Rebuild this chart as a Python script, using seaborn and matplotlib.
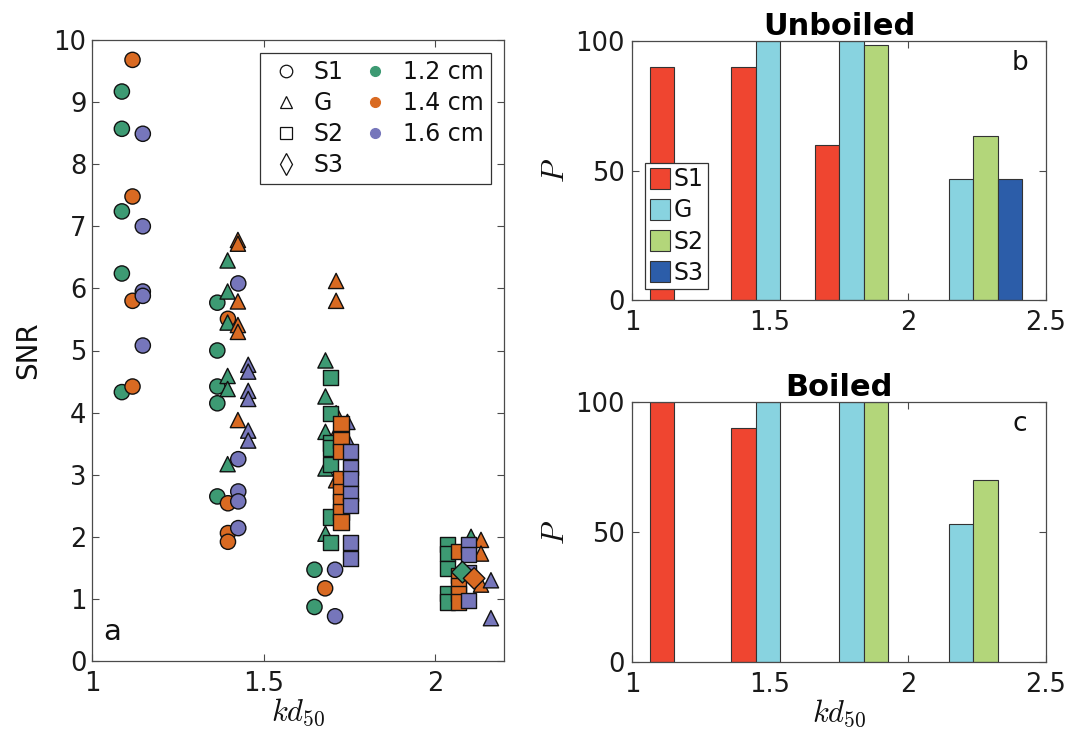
import numpy as np
import pandas as pd
import matplotlib
matplotlib.use("Agg")
import matplotlib.pyplot as plt
from matplotlib.lines import Line2D
from matplotlib.patches import Patch
from matplotlib.ticker import FuncFormatter, MultipleLocator
import seaborn as sns

# ---------------------------------------------------------------- data
sediments = ["S1", "G", "S2", "S3"]
depths = ["1.2 cm", "1.4 cm", "1.6 cm"]
depth_colors = ["#3d9a73", "#d96a22", "#7676bb"]
sed_markers = {"S1": "o", "G": "^", "S2": "s", "S3": "D"}

# S1 (circles)
s1_kd = [1.087, 1.087, 1.087, 1.087, 1.087, 1.365, 1.365, 1.365, 1.365, 1.365, 1.648, 1.648,
         1.118, 1.118, 1.118, 1.118, 1.396, 1.396, 1.396, 1.396, 1.679,
         1.148, 1.148, 1.148, 1.148, 1.148, 1.426, 1.426, 1.426, 1.426, 1.426, 1.708, 1.708]
s1_snr = [9.17, 8.57, 7.24, 6.24, 4.33, 5.77, 5.00, 4.42, 4.15, 2.65, 1.47, 0.87,
          9.68, 7.48, 5.80, 4.42, 5.51, 2.54, 2.06, 1.92, 1.17,
          8.49, 7.00, 5.95, 5.88, 5.08, 6.08, 3.25, 2.73, 2.57, 2.14, 1.47, 0.72]
s1_depth = ["1.2 cm"] * 12 + ["1.4 cm"] * 9 + ["1.6 cm"] * 12

# G (triangles)
g_kd = [1.395, 1.395, 1.395, 1.395, 1.395, 1.395, 1.680, 1.680, 1.680, 1.680, 1.680, 2.104,
        1.425, 1.425, 1.425, 1.425, 1.425, 1.425, 1.711, 1.711, 1.711, 1.711, 1.711, 2.133, 2.133, 2.133,
        1.455, 1.455, 1.455, 1.455, 1.455, 1.455, 1.744, 1.744, 2.162, 2.162]
g_snr = [6.45, 5.95, 5.45, 4.59, 4.38, 3.17, 4.84, 4.26, 3.69, 3.10, 2.05, 2.00,
         6.78, 6.72, 5.79, 5.41, 5.30, 3.88, 6.12, 5.80, 3.99, 3.67, 2.91, 1.95, 1.73, 1.23,
         4.77, 4.66, 4.35, 4.22, 3.71, 3.55, 3.85, 3.56, 1.30, 0.69]
g_depth = ["1.2 cm"] * 12 + ["1.4 cm"] * 14 + ["1.6 cm"] * 10

# S2 (squares)
s2_kd = [1.695, 1.695, 1.695, 1.695, 1.695, 1.695, 1.695, 2.036, 2.036, 2.036, 2.036, 2.036,
         1.725, 1.725, 1.725, 1.725, 1.725, 1.725, 1.725, 1.725, 2.067, 2.067, 2.067, 2.067, 2.067,
         1.754, 1.754, 1.754, 1.754, 1.754, 1.754, 1.754, 2.097, 2.097, 2.097, 2.097]
s2_snr = [4.57, 3.99, 3.51, 3.43, 3.16, 2.32, 1.91, 1.87, 1.73, 1.49, 1.09, 0.95,
          3.83, 3.56, 3.37, 2.94, 2.73, 2.57, 2.40, 2.24, 1.76, 1.38, 1.22, 1.09, 0.95,
          3.37, 3.12, 2.94, 2.70, 2.51, 1.91, 1.65, 1.87, 1.72, 1.42, 0.97]
s2_depth = ["1.2 cm"] * 12 + ["1.4 cm"] * 13 + ["1.6 cm"] * 11

# S3 (diamonds)
s3_kd = [2.079, 2.113]
s3_snr = [1.43, 1.33]
s3_depth = ["1.2 cm", "1.4 cm"]

# Detection probability P (%) per kd50 group
group_kd = [1.242, 1.537, 1.839, 2.237]
bar_colors = ["#ef4530", "#88d3e0", "#b3d67a", "#2c5da9"]

unboiled_s1 = [90, 90, 60, np.nan]
unboiled_g = [np.nan, 100, 100, 46.7]
unboiled_s2 = [np.nan, np.nan, 98.5, 63.3]
unboiled_s3 = [np.nan, np.nan, np.nan, 46.7]

boiled_s1 = [100, 90, np.nan, np.nan]
boiled_g = [np.nan, 100, 100, 53.3]
boiled_s2 = [np.nan, np.nan, 100, 70]
boiled_s3 = [np.nan, np.nan, np.nan, np.nan]

bar_width = 0.0888

# ---------------------------------------------------------------- style
sns.set_style("ticks")
plt.rcParams.update({
    "font.family": ["DejaVu Sans"],
    "mathtext.fontset": "cm",
    "text.color": "#111111",
    "axes.labelcolor": "#111111",
    "xtick.direction": "in",
    "ytick.direction": "in",
    "xtick.top": True,
    "ytick.right": True,
    "axes.edgecolor": "#4a4a4a",
    "axes.linewidth": 0.9,
    "xtick.color": "#4a4a4a",
    "ytick.color": "#4a4a4a",
    "xtick.labelcolor": "#1a1a1a",
    "ytick.labelcolor": "#1a1a1a",
    "xtick.major.size": 5,
    "ytick.major.size": 5,
    "xtick.major.width": 0.8,
    "ytick.major.width": 0.8,
})

fig = plt.figure(figsize=(10.74, 7.44), dpi=100)
W, H = 1074, 744


def px_axes(x0, y0, x1, y1):
    return fig.add_axes([x0 / W, 1 - y1 / H, (x1 - x0) / W, (y1 - y0) / H])


fmt = FuncFormatter(lambda v, p: f"{v:g}")

# ---------------------------------------------------------------- panel a
ax = px_axes(92, 40, 504, 661)
scatter_df = pd.concat([
    pd.DataFrame({"kd": s1_kd, "snr": s1_snr, "depth": s1_depth, "sed": "S1"}),
    pd.DataFrame({"kd": g_kd, "snr": g_snr, "depth": g_depth, "sed": "G"}),
    pd.DataFrame({"kd": s2_kd, "snr": s2_snr, "depth": s2_depth, "sed": "S2"}),
    pd.DataFrame({"kd": s3_kd, "snr": s3_snr, "depth": s3_depth, "sed": "S3"}),
], ignore_index=True)

sns.scatterplot(data=scatter_df, x="kd", y="snr", hue="depth", hue_order=depths,
                palette=depth_colors, style="sed", style_order=sediments,
                markers=sed_markers, s=120, edgecolor="#111111", linewidth=1.0,
                legend=False, ax=ax, zorder=3)

ax.set_xlim(1, 2.2)
ax.set_ylim(0, 10)
ax.set_xticks([1, 1.5, 2])
ax.yaxis.set_major_locator(MultipleLocator(1))
ax.xaxis.set_major_formatter(fmt)
ax.tick_params(axis="both", labelsize=18.5)
ax.tick_params(axis="x", pad=7)
ax.tick_params(axis="y", pad=4)
ax.set_xlabel(r"$kd_{50}$", fontsize=22, labelpad=0)
ax.set_ylabel("SNR", fontsize=20, labelpad=8)
ax.text(0.05, 0.047, "a", transform=ax.transAxes, fontsize=21,
        ha="center", va="center")

shape_handles = [Line2D([], [], linestyle="none", marker=sed_markers[s] if s != "S3" else "d",
                        markersize=9 if s != "S3" else 11, markerfacecolor="none",
                        markeredgecolor="#111111", markeredgewidth=0.9)
                 for s in sediments]
color_handles = [Line2D([], [], linestyle="none", marker="o", markersize=7,
                        markerfacecolor=c, markeredgecolor=c) for c in depth_colors]
blank = Line2D([], [], linestyle="none")
leg = ax.legend(shape_handles + color_handles + [blank],
                sediments + depths + [""], ncol=2, fontsize=17,
                loc="upper right", bbox_to_anchor=(0.968, 0.979), borderaxespad=0,
                frameon=True, fancybox=False, framealpha=1, edgecolor="#333333",
                borderpad=0.3, handlelength=1.6, handletextpad=0.4,
                columnspacing=0.5, labelspacing=0.3)
leg.get_frame().set_linewidth(0.9)

# ---------------------------------------------------------------- panels b, c
def bar_panel(axb, values, title, letter, show_legend, show_xlabel):
    rows = []
    for name, vals in zip(sediments, values):
        i = sediments.index(name)
        for g, v in zip(group_kd, vals):
            if not np.isnan(v):
                rows.append({"kd": g + (i - 1.5) * bar_width, "P": v, "sed": name})
    df = pd.DataFrame(rows)
    sns.barplot(data=df, x="kd", y="P", hue="sed", hue_order=sediments,
                palette=bar_colors, saturation=1, native_scale=True, width=1.0,
                dodge=False, errorbar=None, edgecolor="#333333", linewidth=0.8,
                legend=False, ax=axb, zorder=2)
    axb.set_xlim(1, 2.5)
    axb.set_ylim(0, 100)
    axb.set_xticks([1, 1.5, 2, 2.5])
    axb.set_yticks([0, 50, 100])
    axb.xaxis.set_major_formatter(fmt)
    axb.tick_params(axis="both", labelsize=18.5)
    axb.tick_params(axis="x", pad=7)
    axb.tick_params(axis="y", pad=5)
    axb.set_ylabel(r"$P$", fontsize=22, labelpad=4)
    axb.set_title(title, fontsize=22, fontweight="bold", pad=3, color="black")
    if show_xlabel:
        axb.set_xlabel(r"$kd_{50}$", fontsize=22, labelpad=0)
    else:
        axb.set_xlabel("")
    axb.text(0.937, 0.915, letter, transform=axb.transAxes, fontsize=19,
             ha="center", va="center")
    if show_legend:
        handles = [Patch(facecolor=c, edgecolor="#333333", linewidth=0.8)
                   for c in bar_colors]
        lg = axb.legend(handles, sediments, fontsize=17, loc="lower left",
                        bbox_to_anchor=(0.031, 0.043), borderaxespad=0,
                        frameon=True, fancybox=False, framealpha=1,
                        edgecolor="#333333", borderpad=0.2, handlelength=0.85,
                        handleheight=1.0, handletextpad=0.15, labelspacing=0.3)
        lg.get_frame().set_linewidth(0.9)


axb = px_axes(632, 40.7, 1046, 300.5)
bar_panel(axb, [unboiled_s1, unboiled_g, unboiled_s2, unboiled_s3],
          "Unboiled", "b", True, False)

axc = px_axes(632, 402.3, 1046, 662)
bar_panel(axc, [boiled_s1, boiled_g, boiled_s2, boiled_s3],
          "Boiled", "c", False, True)

fig.savefig("out.png", dpi=100)
